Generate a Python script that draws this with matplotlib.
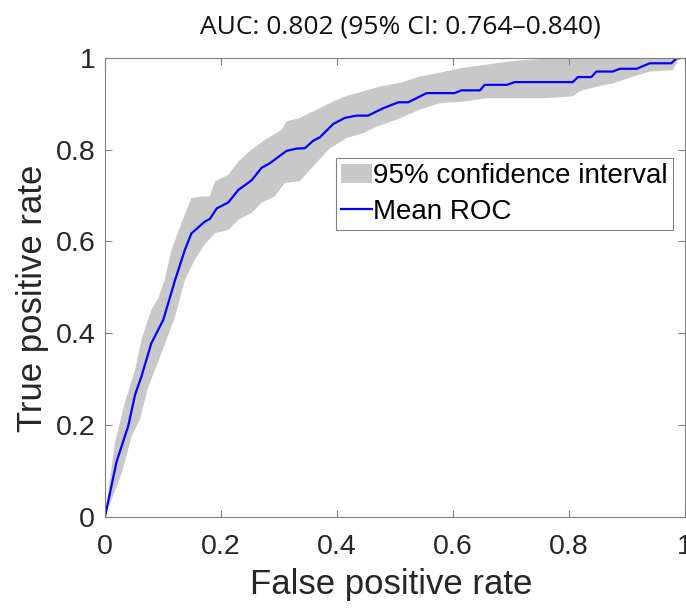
import matplotlib
matplotlib.use("Agg")
import matplotlib.pyplot as plt
import numpy as np

# Mean ROC curve
fpr_mean = [0.0, 0.020, 0.040, 0.052, 0.063, 0.080, 0.1006, 0.121, 0.138, 0.149, 0.172, 0.181,
            0.193, 0.213, 0.230, 0.253, 0.270, 0.284, 0.296, 0.313, 0.330, 0.345, 0.359, 0.371,
            0.394, 0.414, 0.434, 0.454, 0.480, 0.506, 0.523, 0.555, 0.603, 0.615, 0.647, 0.655,
            0.693, 0.707, 0.807, 0.816, 0.839, 0.848, 0.876, 0.888, 0.917, 0.940, 0.977, 0.986, 1.0]
tpr_mean = [0.0, 0.120, 0.197, 0.266, 0.306, 0.378, 0.429, 0.516, 0.582, 0.617, 0.643, 0.649,
            0.672, 0.685, 0.712, 0.733, 0.760, 0.770, 0.781, 0.797, 0.802, 0.803, 0.819, 0.827,
            0.856, 0.869, 0.874, 0.874, 0.890, 0.903, 0.903, 0.923, 0.923, 0.929, 0.929, 0.941,
            0.941, 0.947, 0.947, 0.958, 0.958, 0.970, 0.970, 0.976, 0.976, 0.988, 0.988, 0.999, 1.0]

# Upper bound of 95% CI
fpr_upper = [0.0, 0.017, 0.034, 0.052, 0.063, 0.080, 0.092, 0.103, 0.115, 0.132, 0.149, 0.167,
             0.181, 0.190, 0.213, 0.230, 0.253, 0.276, 0.305, 0.313, 0.336, 0.359, 0.394, 0.417,
             0.446, 0.474, 0.514, 0.543, 0.572, 0.612, 0.658, 0.704, 0.761, 0.807, 1.0]
tpr_upper = [0.0, 0.160, 0.248, 0.320, 0.386, 0.451, 0.476, 0.516, 0.582, 0.640, 0.694, 0.698,
             0.698, 0.731, 0.745, 0.774, 0.800, 0.821, 0.843, 0.861, 0.869, 0.883, 0.905, 0.917,
             0.927, 0.937, 0.947, 0.959, 0.966, 0.977, 0.985, 0.993, 0.998, 1.0, 1.0]

# Lower bound of 95% CI
fpr_lower = [0.0, 0.029, 0.046, 0.060, 0.075, 0.092, 0.103, 0.121, 0.138, 0.155, 0.172, 0.190,
             0.213, 0.230, 0.253, 0.270, 0.293, 0.310, 0.336, 0.359, 0.388, 0.417, 0.446, 0.469,
             0.503, 0.543, 0.578, 0.624, 0.658, 0.704, 0.761, 0.807, 0.819, 0.848, 0.876, 0.911,
             0.940, 0.980, 0.989, 1.0]
tpr_lower = [0.0, 0.095, 0.175, 0.211, 0.284, 0.338, 0.375, 0.436, 0.516, 0.560, 0.593, 0.618,
             0.625, 0.647, 0.662, 0.684, 0.698, 0.727, 0.731, 0.763, 0.803, 0.825, 0.836, 0.850,
             0.865, 0.887, 0.901, 0.905, 0.912, 0.912, 0.912, 0.916, 0.927, 0.937, 0.944, 0.959,
             0.970, 0.973, 0.996, 1.0]

title_text = "AUC: 0.802 (95% CI: 0.764\u20130.840)"
ticks = [0, 0.2, 0.4, 0.6, 0.8, 1]
tick_labels = ["0", "0.2", "0.4", "0.6", "0.8", "1"]

plt.rcParams['font.family'] = ['Liberation Sans', 'DejaVu Sans']

fig = plt.figure(figsize=(6.86, 6.08), dpi=100)
ax = fig.add_axes([0.153, 0.150, 0.845, 0.755])

poly_x = np.concatenate([fpr_upper, fpr_lower[::-1]])
poly_y = np.concatenate([tpr_upper, tpr_lower[::-1]])
ax.fill(poly_x, poly_y, color='#c8c8c8', linewidth=0, label='95% confidence interval')
ax.plot(fpr_mean, tpr_mean, color='#0000ff', linewidth=1.6, label='Mean ROC')

ax.set_xlim(0, 1)
ax.set_ylim(0, 1)
ax.set_xticks(ticks)
ax.set_xticklabels(tick_labels)
ax.set_yticks(ticks)
ax.set_yticklabels(tick_labels)
ax.tick_params(direction='in', length=5, width=0.8, color='#808080', labelsize=20.5,
               labelcolor='#262626', top=True, right=True)
ax.tick_params(axis='x', pad=12.5)
ax.tick_params(axis='y', pad=7)
for s in ax.spines.values():
    s.set_color('#808080')
    s.set_linewidth(0.8)

ax.set_xlabel('False positive rate', fontsize=25, color='#262626')
ax.set_ylabel('True positive rate', fontsize=25, color='#262626')
ax.xaxis.set_label_coords(0.494, -0.112)
ax.yaxis.set_label_coords(-0.097, 0.475)
fig.text(0.583, 1 - 33 / 608, title_text, fontsize=19, ha='center', va='baseline',
         family=['Open Sans', 'DejaVu Sans'], color='#111111')

leg = ax.legend(loc='upper left', bbox_to_anchor=(0.398, 0.782), fontsize=20,
                frameon=True, fancybox=False, edgecolor='#808080', framealpha=1,
                borderpad=0.2, handlelength=1.1, handleheight=0.7, handletextpad=0.05,
                labelspacing=0.33, borderaxespad=0)
leg.get_frame().set_linewidth(0.8)

fig.savefig('out.png', dpi=100)
